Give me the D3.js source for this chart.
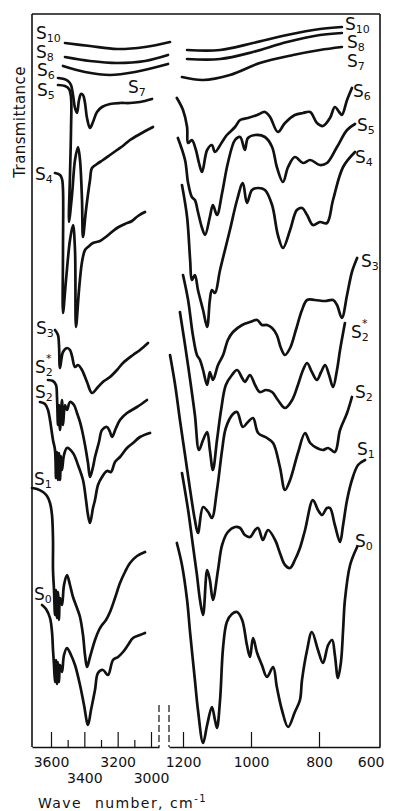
<!DOCTYPE html>
<html><head><meta charset="utf-8">
<script src="https://cdn.jsdelivr.net/npm/d3@7"></script>
<style>html,body{margin:0;padding:0;background:#fff;} svg{display:block;}</style>
</head><body><svg id="c" width="394" height="811"></svg>
<script>
// ---------- DATA: [wavenumber cm-1, transmittance (arbitrary offset units)] ----------
// Left panel (OH stretching region)
const leftS10 = [[3516,70.4],[3366,70.1],[3204,69.8],[3036,70.0],[2886,70.5]];
const leftS8  = [[3516,69.0],[3366,68.6],[3204,68.4],[3036,68.6],[2898,69.2]];
const leftS7  = [[3528,68.1],[3396,67.5],[3246,67.2],[3096,67.5],[2898,68.3]];
const leftS6  = [[3558,66.9],[3522,66.8],[3498,66.6],[3480,66.2],[3468,65.2],[3456,63.9],[3444,63.4],[3432,64.7],[3420,65.3],[3408,65.2],[3396,64.4],[3384,62.9],[3366,61.9],[3348,62.5],[3324,63.5],[3294,64.0],[3246,64.3],[3186,64.4],[3126,64.4],[3066,64.5],[2994,64.8]];
const leftS5  = [[3558,66.2],[3516,66.1],[3492,65.8],[3480,65.0],[3480,61.7],[3486,57.2],[3492,52.5],[3474,55.2],[3456,58.7],[3438,60.0],[3426,58.7],[3414,54.7],[3408,51.0],[3390,53.7],[3366,56.7],[3354,57.9],[3324,58.3],[3288,58.7],[3246,59.2],[3204,59.7],[3162,60.2],[3126,60.7],[3066,61.3],[2988,62.0]];
const leftS4  = [[3576,57.4],[3546,57.2],[3534,56.8],[3528,55.7],[3528,49.7],[3528,43.4],[3510,46.7],[3486,50.7],[3468,52.2],[3456,49.7],[3450,42.0],[3432,45.7],[3414,48.5],[3396,49.7],[3378,50.0],[3348,50.4],[3306,50.6],[3264,51.1],[3204,51.9],[3156,52.3],[3114,52.6],[3078,53.1],[3036,53.5]];
const leftS3  = [[3576,41.7],[3558,41.2],[3552,40.2],[3546,37.9],[3528,39.5],[3504,39.9],[3486,39.7],[3474,39.1],[3456,38.0],[3438,38.2],[3414,37.7],[3384,36.5],[3354,35.4],[3318,36.0],[3282,36.6],[3246,37.0],[3204,37.7],[3168,38.4],[3108,39.2],[3066,39.7],[3018,40.4]];
const leftS2s = [[3618,36.7],[3588,36.6],[3570,36.2],[3564,35.0],[3558,32.2],[3552,34.2],[3546,31.7],[3534,34.7],[3528,32.2],[3516,34.2],[3504,33.7],[3486,34.5],[3462,34.2],[3444,33.4],[3426,32.5],[3414,31.7],[3396,30.2],[3378,28.4],[3366,27.0],[3348,28.0],[3336,29.0],[3312,30.5],[3294,31.7],[3264,32.0],[3246,31.5],[3234,31.0],[3210,31.9],[3186,32.7],[3144,33.4],[3084,34.0],[3024,34.7]];
const leftS2  = [[3666,34.5],[3636,34.3],[3618,33.7],[3606,32.7],[3588,30.7],[3576,29.7],[3570,26.9],[3564,29.5],[3558,26.7],[3552,29.4],[3546,26.7],[3540,29.1],[3534,27.7],[3522,29.2],[3504,29.9],[3468,29.4],[3438,28.2],[3408,26.7],[3390,24.7],[3378,23.2],[3366,22.4],[3348,23.9],[3336,24.7],[3318,26.2],[3294,27.0],[3264,27.6],[3240,27.5],[3216,28.5],[3186,29.0],[3144,29.9],[3108,30.4],[3066,31.0],[3006,31.4]];
const leftS1  = [[3714,25.9],[3684,25.8],[3648,25.5],[3624,25.1],[3606,24.4],[3594,23.2],[3588,20.7],[3588,17.7],[3582,15.7],[3576,13.2],[3570,15.7],[3564,12.9],[3558,15.5],[3552,12.7],[3546,14.9],[3534,14.2],[3522,16.2],[3504,17.2],[3486,16.2],[3468,15.0],[3444,13.9],[3426,13.0],[3408,11.2],[3396,9.2],[3384,8.0],[3366,9.0],[3336,10.7],[3312,11.7],[3294,12.2],[3270,12.7],[3246,13.5],[3216,14.9],[3186,16.4],[3156,17.5],[3126,18.4],[3084,19.1],[3036,19.5]];
const leftS0  = [[3654,14.2],[3630,13.8],[3606,12.9],[3594,11.5],[3588,9.7],[3582,8.2],[3576,6.5],[3570,8.7],[3564,6.3],[3558,8.5],[3552,6.5],[3546,8.2],[3534,7.5],[3522,9.2],[3504,9.9],[3480,9.2],[3456,8.2],[3426,6.2],[3402,4.2],[3378,2.2],[3360,3.7],[3336,5.7],[3318,7.4],[3288,7.7],[3258,7.2],[3228,8.7],[3198,9.0],[3168,9.5],[3138,10.2],[3108,10.9],[3066,11.2],[3036,11.4]];

// Right panel (1250-600 cm-1)
const rightS10 = [[1188,69.7],[1091,69.7],[994,70.4],[894,71.2],[797,71.8],[725,72.0]];
const rightS8  = [[1188,68.8],[1091,68.8],[994,69.5],[894,70.5],[797,71.2],[725,71.4]];
const rightS7  = [[1203,67.0],[1141,66.7],[1062,67.2],[974,68.4],[876,69.2],[797,69.7],[725,70.0]];
const rightS6  = [[1218,64.9],[1200,63.7],[1188,62.0],[1185,60.4],[1174,60.7],[1162,59.7],[1153,58.4],[1144,57.5],[1129,59.7],[1115,60.2],[1106,59.5],[1085,60.5],[1071,61.2],[1047,62.0],[1032,62.7],[1009,62.9],[982,63.2],[959,63.5],[944,63.0],[921,61.5],[900,62.4],[871,63.2],[847,63.4],[826,63.5],[806,62.4],[787,62.1],[764,62.9],[748,64.0],[734,63.5],[725,63.2],[708,64.7],[692,65.9]];
const rightS5  = [[1215,60.9],[1194,58.7],[1185,56.4],[1174,55.0],[1165,54.7],[1156,53.5],[1144,51.9],[1135,51.2],[1121,53.0],[1112,54.2],[1100,53.2],[1085,55.4],[1068,58.4],[1047,60.7],[1032,61.0],[1018,59.7],[1009,60.9],[988,61.2],[959,61.0],[938,60.0],[924,58.0],[906,56.5],[891,58.0],[871,59.0],[847,58.4],[826,58.7],[797,58.2],[774,58.4],[741,60.0],[708,61.7],[682,62.3]];
const rightS4  = [[1203,56.2],[1188,53.0],[1179,48.7],[1174,46.7],[1165,47.2],[1156,45.7],[1141,43.7],[1129,42.0],[1121,44.7],[1115,45.7],[1106,45.4],[1091,47.7],[1062,51.7],[1041,54.7],[1024,56.4],[1012,54.4],[997,55.7],[979,55.9],[959,55.7],[938,54.2],[921,51.2],[906,49.9],[885,51.7],[865,53.7],[850,53.9],[835,53.2],[818,52.2],[797,52.5],[774,52.4],[754,54.7],[721,58.0],[682,59.5]];
const rightS3  = [[1200,47.2],[1185,44.7],[1171,41.2],[1159,39.2],[1150,38.7],[1141,37.7],[1129,36.2],[1121,37.5],[1112,36.7],[1097,38.2],[1082,39.2],[1068,40.7],[1053,41.5],[1026,42.2],[1003,42.5],[982,42.7],[968,42.2],[953,42.2],[938,41.9],[924,41.2],[912,39.9],[900,39.2],[885,39.9],[868,41.7],[850,43.7],[835,44.7],[812,44.7],[780,44.6],[754,44.7],[741,44.2],[725,42.9],[708,45.2],[692,47.5],[675,48.9]];
const rightS2s = [[1209,43.5],[1194,40.2],[1179,36.7],[1165,33.2],[1153,29.7],[1141,30.7],[1129,31.5],[1121,29.7],[1112,27.7],[1100,30.7],[1088,33.7],[1074,36.2],[1056,37.2],[1041,37.7],[1026,36.9],[1018,36.5],[1003,37.2],[988,36.2],[974,35.5],[956,35.7],[938,35.5],[921,34.7],[900,33.9],[879,34.7],[862,36.2],[847,37.7],[835,38.4],[821,37.5],[806,36.7],[793,37.5],[780,38.2],[767,37.2],[754,36.0],[741,37.7],[731,39.7],[715,42.4]];
const rightS2  = [[1238,39.2],[1223,36.2],[1209,32.7],[1194,29.2],[1179,25.7],[1165,22.7],[1156,21.4],[1141,24.0],[1126,23.5],[1115,22.9],[1100,25.7],[1085,29.7],[1074,31.9],[1053,33.3],[1041,33.5],[1024,32.0],[1009,32.5],[994,32.9],[979,31.4],[953,30.9],[935,30.4],[915,28.0],[900,25.7],[885,26.7],[862,29.4],[841,31.4],[826,30.4],[806,29.9],[787,29.7],[770,29.9],[748,29.5],[731,31.7],[708,33.4],[692,35.0]];
const rightS1  = [[1203,27.4],[1185,23.7],[1171,20.2],[1159,17.2],[1150,14.7],[1141,13.2],[1129,17.7],[1121,16.7],[1112,14.7],[1097,17.7],[1085,20.2],[1068,21.5],[1047,22.0],[1032,21.9],[1018,21.2],[1003,21.0],[988,21.7],[979,21.9],[965,20.7],[950,21.7],[929,20.7],[915,19.4],[900,18.2],[885,17.9],[871,18.7],[856,19.9],[841,21.7],[818,24.7],[803,23.7],[790,23.2],[774,23.9],[764,23.9],[748,22.2],[731,20.5],[721,22.2],[708,24.7],[692,26.7],[672,28.2],[649,28.7]];
const rightS0  = [[1218,20.4],[1203,18.2],[1188,14.7],[1179,11.4],[1165,6.7],[1156,3.7],[1141,0.4],[1129,2.2],[1115,4.0],[1106,2.7],[1100,1.9],[1091,4.7],[1082,10.0],[1071,12.5],[1056,13.3],[1041,13.5],[1026,12.7],[1012,10.2],[1003,9.0],[994,10.9],[982,9.4],[968,8.2],[953,7.0],[935,8.0],[924,6.0],[909,3.7],[891,2.0],[871,3.5],[856,4.7],[850,6.7],[835,9.7],[821,11.5],[803,9.7],[787,8.4],[770,10.2],[757,10.7],[748,9.2],[738,6.9],[728,8.5],[721,11.7],[715,14.7],[698,18.2],[675,20.0]];

const leftSeries  = [["S10",leftS10],["S8",leftS8],["S7",leftS7],["S6",leftS6],["S5",leftS5],["S4",leftS4],["S3",leftS3],["S2*",leftS2s],["S2",leftS2],["S1",leftS1],["S0",leftS0]];
const rightSeries = [["S10",rightS10],["S8",rightS8],["S7",rightS7],["S6",rightS6],["S5",rightS5],["S4",rightS4],["S3",rightS3],["S2*",rightS2s],["S2",rightS2],["S1",rightS1],["S0",rightS0]];

// tick values
const leftMajorTicks = [3600, 3400, 3200, 3000];
const leftMinorTicks = [3500, 3300, 3100];
const rightTicks = [1200, 1000, 800, 600];
const yTitle = "Transmittance";

// ---------- LAYOUT ----------
const FONT = "DejaVu Sans, Liberation Sans, sans-serif";
const leftLabelPos = {"S10":[36,39],"S8":[36,58],"S6":[37,76],"S5":[37,96],"S7":[128,93],"S4":[35,180],"S3":[36,334],"S2*":[35,373],"S2":[35,398],"S1":[34,485],"S0":[34,600]};
const rightLabelPos = {"S10":[345,30],"S8":[347,48],"S7":[347,67],"S6":[353,97],"S5":[357,131],"S4":[355,163],"S3":[361,267],"S2*":[351,338],"S2":[355,398],"S1":[357,455],"S0":[355,547]};

const svg = d3.select("#c");
svg.append("rect").attr("width",394).attr("height",811).attr("fill","#fff");

const xL = d3.scaleLinear().domain([3714, 2952]).range([32, 159]);
const xR = d3.scaleLinear().domain([1241, 1200, 800, 600]).range([169, 183, 319, 380]);
const y  = d3.scaleLinear().domain([0, 73.3]).range([747, 14]);

const ink = "#111";

// frame
const frame = svg.append("g").attr("stroke", ink).attr("stroke-width", 1.6).attr("fill","none");
frame.append("line").attr("x1",xL.range()[0]).attr("x2",xL.range()[0]).attr("y1",y.range()[1]).attr("y2",y.range()[0]);
frame.append("line").attr("x1",xL.range()[0]).attr("x2",xR.range()[3]).attr("y1",y.range()[1]).attr("y2",y.range()[1]);
frame.append("line").attr("x1",xR.range()[3]).attr("x2",xR.range()[3]).attr("y1",y.range()[1]).attr("y2",y.range()[0]);
// break marks
[xL.range()[1], xR.range()[0]].forEach(xx => {
  frame.append("line").attr("x1",xx).attr("x2",xx).attr("y1",y.range()[0]-42).attr("y2",y.range()[0])
    .attr("stroke-width",1.2).attr("stroke-dasharray","7,3");
});

// axes
function styleAxis(g){
  g.select(".domain").attr("stroke", ink).attr("stroke-width", 1.6);
  g.selectAll(".tick line").attr("stroke", ink).attr("stroke-width", 1.2);
  g.selectAll(".tick text").attr("fill", ink).attr("font-family", FONT).attr("font-size", 14);
}
const gL = svg.append("g").attr("transform","translate(0,747)")
  .call(d3.axisBottom(xL).tickValues(leftMajorTicks).tickSizeInner(-15).tickSizeOuter(0).tickFormat(d3.format("d")));
styleAxis(gL);
gL.selectAll(".tick text").attr("dy", null).attr("y", (d,i) => i % 2 ? 36 : 20);

const gLm = svg.append("g").attr("transform","translate(0,747)")
  .call(d3.axisBottom(xL).tickValues(leftMinorTicks).tickSizeInner(-7).tickSizeOuter(0).tickFormat(""));
styleAxis(gLm); gLm.select(".domain").remove();

const gR = svg.append("g").attr("transform","translate(0,747)")
  .call(d3.axisBottom(xR).tickValues(rightTicks).tickSizeInner(-15).tickSizeOuter(0).tickFormat(d3.format("d")));
styleAxis(gR);
gR.selectAll(".tick text").attr("dy", null).attr("y", 20);
gR.selectAll(".tick").filter(d => d === 600).select("text").attr("text-anchor","end").attr("x", 4);
gR.selectAll(".tick").filter(d => d === 600).select("line").remove();

// axis titles
const xt = svg.append("text").attr("x", 38).attr("y", 808).attr("font-family", FONT).attr("font-size", 14).attr("fill", ink).attr("letter-spacing", 1.4);
xt.append("tspan").text("Wave");
xt.append("tspan").attr("x", 95).text("number,");
xt.append("tspan").attr("x", 170).text("cm");
xt.append("tspan").attr("font-size", 10).attr("dy", -6).text("-1");

svg.append("text").attr("transform","translate(25,122) rotate(-90)").attr("text-anchor","middle")
  .attr("font-family", FONT).attr("font-size", 15).attr("fill", ink).attr("letter-spacing", 0.4).text(yTitle);

// spectra
const lineL = d3.line().x(d => xL(d[0])).y(d => y(d[1])).curve(d3.curveCatmullRom.alpha(0.5));
const lineR = d3.line().x(d => xR(d[0])).y(d => y(d[1])).curve(d3.curveCatmullRom.alpha(0.5));
const gs = svg.append("g").attr("fill","none").attr("stroke", ink).attr("stroke-width", 2.7)
  .attr("stroke-linejoin","round").attr("stroke-linecap","round");
gs.selectAll("path.l").data(leftSeries).join("path").attr("class","l").attr("d", d => lineL(d[1]));
gs.selectAll("path.r").data(rightSeries).join("path").attr("class","r").attr("d", d => lineR(d[1]));

// labels (S + subscript; star drawn above the subscript)
function drawLabel(name, pos){
  if (!pos) return;
  const m = name.match(/^S(\d+)(\*?)$/);
  const t = svg.append("text").attr("x", pos[0]).attr("y", pos[1]).attr("font-family", FONT).attr("font-size", 17).attr("fill", ink);
  t.append("tspan").text("S");
  t.append("tspan").attr("font-size", 11).attr("dy", 3).text(m[1]);
  if (m[2]) svg.append("text").attr("x", pos[0] + 11).attr("y", pos[1] - 11)
    .attr("font-family", FONT).attr("font-size", 11).attr("fill", ink).text("*");
}
leftSeries.forEach(s => drawLabel(s[0], leftLabelPos[s[0]]));
rightSeries.forEach(s => drawLabel(s[0], rightLabelPos[s[0]]));
</script>
</body></html>
